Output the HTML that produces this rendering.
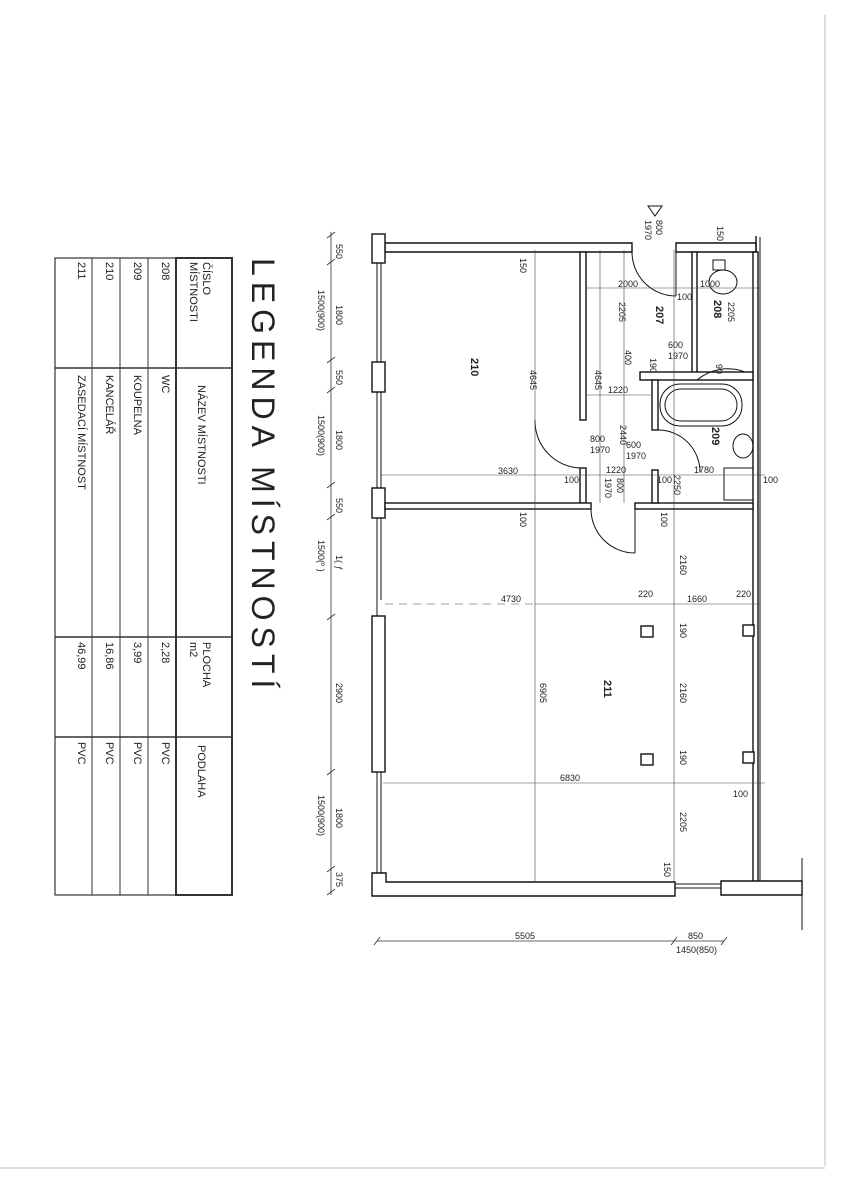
<!DOCTYPE html>
<html><head><meta charset="utf-8"><style>
html,body{margin:0;padding:0;background:#fff}
svg{display:block}
text{font-family:"Liberation Sans",sans-serif;fill:#222}
.d{font-size:9px}
.b{font-size:11px;font-weight:bold;fill:#000}
.t{font-size:11px;fill:#333}
</style></head><body>
<svg width="848" height="1200" viewBox="0 0 848 1200" xmlns="http://www.w3.org/2000/svg">
<line x1="825" y1="15" x2="825" y2="1166" stroke="#bbb" stroke-width="1"/>
<line x1="0" y1="1168" x2="825" y2="1168" stroke="#bbb" stroke-width="1"/>

<text transform="translate(252,258) rotate(90)" style="font-size:32px;letter-spacing:6px;fill:#222">LEGENDA MÍSTNOSTÍ</text>
<g fill="none" stroke="#333">
<rect x="55" y="258" width="177" height="637" stroke-width="1.2"/>
<rect x="176" y="258" width="56" height="637" stroke-width="2"/>
<line x1="148" y1="258" x2="148" y2="895"/>
<line x1="120" y1="258" x2="120" y2="895"/>
<line x1="92" y1="258" x2="92" y2="895"/>
<line x1="55" y1="368" x2="232" y2="368" stroke-width="1.5"/>
<line x1="55" y1="637" x2="232" y2="637" stroke-width="1.5"/>
<line x1="55" y1="737" x2="232" y2="737" stroke-width="1.5"/>
</g>
<g class="t">
<text transform="translate(203,262) rotate(90)">ČÍSLO</text>
<text transform="translate(190,262) rotate(90)">MÍSTNOSTI</text>
<text transform="translate(198,385) rotate(90)">NÁZEV MÍSTNOSTI</text>
<text transform="translate(203,642) rotate(90)">PLOCHA</text>
<text transform="translate(190,642) rotate(90)">m2</text>
<text transform="translate(198,745) rotate(90)">PODLAHA</text>
<text transform="translate(162,262) rotate(90)">208</text>
<text transform="translate(162,375) rotate(90)">WC</text>
<text transform="translate(162,642) rotate(90)">2,28</text>
<text transform="translate(162,742) rotate(90)">PVC</text>
<text transform="translate(134,262) rotate(90)">209</text>
<text transform="translate(134,375) rotate(90)">KOUPELNA</text>
<text transform="translate(134,642) rotate(90)">3,99</text>
<text transform="translate(134,742) rotate(90)">PVC</text>
<text transform="translate(106,262) rotate(90)">210</text>
<text transform="translate(106,375) rotate(90)">KANCELÁŘ</text>
<text transform="translate(106,642) rotate(90)">16,86</text>
<text transform="translate(106,742) rotate(90)">PVC</text>
<text transform="translate(78,262) rotate(90)">211</text>
<text transform="translate(78,375) rotate(90)">ZASEDACÍ MÍSTNOST</text>
<text transform="translate(78,642) rotate(90)">46,99</text>
<text transform="translate(78,742) rotate(90)">PVC</text>
</g>

<g stroke="#333" stroke-width="0.8" fill="none">
<line x1="331" y1="232" x2="331" y2="895"/>
<path d="M327 238l8 -6 M327 265l8 -6 M327 363l8 -6 M327 393l8 -6 M327 488l8 -6 M327 520l8 -6 M327 620l8 -6 M327 775l8 -6 M327 872l8 -6 M327 895l8 -6"/>
<line x1="377" y1="941" x2="724" y2="941"/>
<path d="M374 945l6 -8 M671 945l6 -8 M721 945l6 -8"/>
</g>
<g class="d">
<text transform="translate(336,244) rotate(90)">550</text>
<text transform="translate(336,305) rotate(90)">1800</text>
<text transform="translate(318,290) rotate(90)">1500(900)</text>
<text transform="translate(336,370) rotate(90)">550</text>
<text transform="translate(336,430) rotate(90)">1800</text>
<text transform="translate(318,415) rotate(90)">1500(900)</text>
<text transform="translate(336,498) rotate(90)">550</text>
<text transform="translate(336,555) rotate(90)">1( ƒ</text>
<text transform="translate(318,540) rotate(90)">1500(º  )</text>
<text transform="translate(336,683) rotate(90)">2900</text>
<text transform="translate(336,808) rotate(90)">1800</text>
<text transform="translate(318,795) rotate(90)">1500(900)</text>
<text transform="translate(336,872) rotate(90)">375</text>
<text x="515" y="939">5505</text>
<text x="688" y="939">850</text>
<text x="676" y="953">1450(850)</text>
</g>

<g fill="#fff" stroke="#111" stroke-width="1.4">
<path d="M385 243 H632 V252 H385 Z"/>
<path d="M676 243 H756 V252 H676 Z"/>
<line x1="756" y1="236" x2="756" y2="252"/>
<rect x="372" y="234" width="13" height="29"/>
<rect x="372" y="362" width="13" height="30"/>
<rect x="372" y="488" width="13" height="30"/>
<rect x="372" y="616" width="13" height="156"/>
<path d="M372 873 H386 V882 H675 V896 H372 Z"/>
<path d="M753 252 H758 V882 H753 Z"/>
<path d="M721 881 H802 V895 H721 Z"/>
<rect x="580" y="252" width="6" height="168"/>
<rect x="580" y="468" width="6" height="35"/>
<rect x="385" y="503" width="206" height="6"/>
<rect x="635" y="503" width="118" height="6"/>
<rect x="692" y="252" width="5" height="125"/>
<rect x="640" y="372" width="113" height="8"/>
<rect x="652" y="380" width="6" height="50"/>
<rect x="652" y="470" width="6" height="33"/>
<rect x="743" y="625" width="11" height="11"/>
<rect x="743" y="752" width="11" height="11"/>
<rect x="641" y="626" width="12" height="11"/>
<rect x="641" y="754" width="12" height="11"/>
</g>
<g stroke="#111" stroke-width="1" fill="none">
<line x1="377" y1="263" x2="377" y2="362"/><line x1="381" y1="263" x2="381" y2="362"/>
<line x1="377" y1="392" x2="377" y2="488"/><line x1="381" y1="392" x2="381" y2="488"/>
<line x1="377" y1="518" x2="377" y2="616"/><line x1="381" y1="518" x2="381" y2="600"/>
<line x1="377" y1="772" x2="377" y2="873"/><line x1="381" y1="772" x2="381" y2="873"/>
<line x1="760" y1="237" x2="760" y2="881"/>
<line x1="802" y1="858" x2="802" y2="930"/>
<line x1="675" y1="884" x2="721" y2="884"/><line x1="675" y1="888" x2="721" y2="888"/>
<path d="M632 252 A44 44 0 0 0 676 296"/><line x1="676" y1="252" x2="676" y2="296"/>
<path d="M580 468 A47 47 0 0 1 535 420"/>
<path d="M697 380 A48 48 0 0 1 745 372"/>
<path d="M658 430 A42 42 0 0 1 700 472"/>
<path d="M591 509 A44 44 0 0 0 635 553"/><line x1="635" y1="509" x2="635" y2="553"/>
<rect x="660" y="384" width="82" height="42" rx="20"/>
<rect x="665" y="389" width="72" height="32" rx="16"/>
<ellipse cx="743" cy="446" rx="10" ry="12"/>
<rect x="724" y="468" width="29" height="32"/>
<rect x="713" y="260" width="12" height="10"/>
<ellipse cx="723" cy="282" rx="14" ry="12"/>
</g>
<g stroke="#444" stroke-width="0.6" fill="none">
<line x1="535" y1="250" x2="535" y2="882"/>
<line x1="674" y1="250" x2="674" y2="882"/>
<line x1="600" y1="250" x2="600" y2="503"/>
<line x1="624" y1="250" x2="624" y2="503"/>
<line x1="585" y1="288" x2="760" y2="288"/>
<line x1="585" y1="395" x2="652" y2="395"/>
<line x1="380" y1="475" x2="765" y2="475"/>
<line x1="385" y1="604" x2="535" y2="604" stroke-dasharray="8 6"/>
<line x1="535" y1="604" x2="760" y2="604"/>
<line x1="383" y1="783" x2="765" y2="783"/>
</g>
<g class="d">
<text transform="translate(520,258) rotate(90)">150</text>
<text transform="translate(530,370) rotate(90)">4645</text>
<text transform="translate(595,370) rotate(90)">4645</text>
<text transform="translate(619,302) rotate(90)">2205</text>
<text transform="translate(620,425) rotate(90)">2440</text>
<text x="618" y="287">2000</text>
<text x="677" y="300">100</text>
<text x="700" y="287">1000</text>
<text transform="translate(728,302) rotate(90)">2205</text>
<text x="668" y="348">600</text>
<text x="668" y="359">1970</text>
<text transform="translate(625,350) rotate(90)">400</text>
<text transform="translate(650,358) rotate(90)">190</text>
<text transform="translate(716,364) rotate(90)">90</text>
<text x="608" y="393">1220</text>
<text x="590" y="442">800</text>
<text x="590" y="453">1970</text>
<text x="626" y="448">600</text>
<text x="626" y="459">1970</text>
<text x="498" y="474">3630</text>
<text x="606" y="473">1220</text>
<text x="694" y="473">1780</text>
<text x="564" y="483">100</text>
<text x="657" y="483">100</text>
<text x="763" y="483">100</text>
<text transform="translate(605,478) rotate(90)">1970</text>
<text transform="translate(617,478) rotate(90)">800</text>
<text transform="translate(674,475) rotate(90)">2250</text>
<text transform="translate(520,512) rotate(90)">100</text>
<text transform="translate(661,512) rotate(90)">100</text>
<text transform="translate(680,555) rotate(90)">2160</text>
<text transform="translate(680,683) rotate(90)">2160</text>
<text transform="translate(680,623) rotate(90)">190</text>
<text transform="translate(680,750) rotate(90)">190</text>
<text x="501" y="602">4730</text>
<text x="638" y="597">220</text>
<text x="687" y="602">1660</text>
<text x="736" y="597">220</text>
<text transform="translate(540,683) rotate(90)">6905</text>
<text x="560" y="781">6830</text>
<text x="733" y="797">100</text>
<text transform="translate(680,812) rotate(90)">2205</text>
<text transform="translate(664,862) rotate(90)">150</text>
<text transform="translate(656,220) rotate(90)">800</text>
<text transform="translate(645,220) rotate(90)">1970</text>
<text transform="translate(717,226) rotate(90)">150</text>
</g>
<path d="M648 206 L662 206 L655 216 Z" fill="none" stroke="#111"/>
<g class="b">
<text transform="translate(471,358) rotate(90)">210</text>
<text transform="translate(656,306) rotate(90)">207</text>
<text transform="translate(714,300) rotate(90)">208</text>
<text transform="translate(712,427) rotate(90)">209</text>
<text transform="translate(604,680) rotate(90)">211</text>
</g>
</svg>
</body></html>
